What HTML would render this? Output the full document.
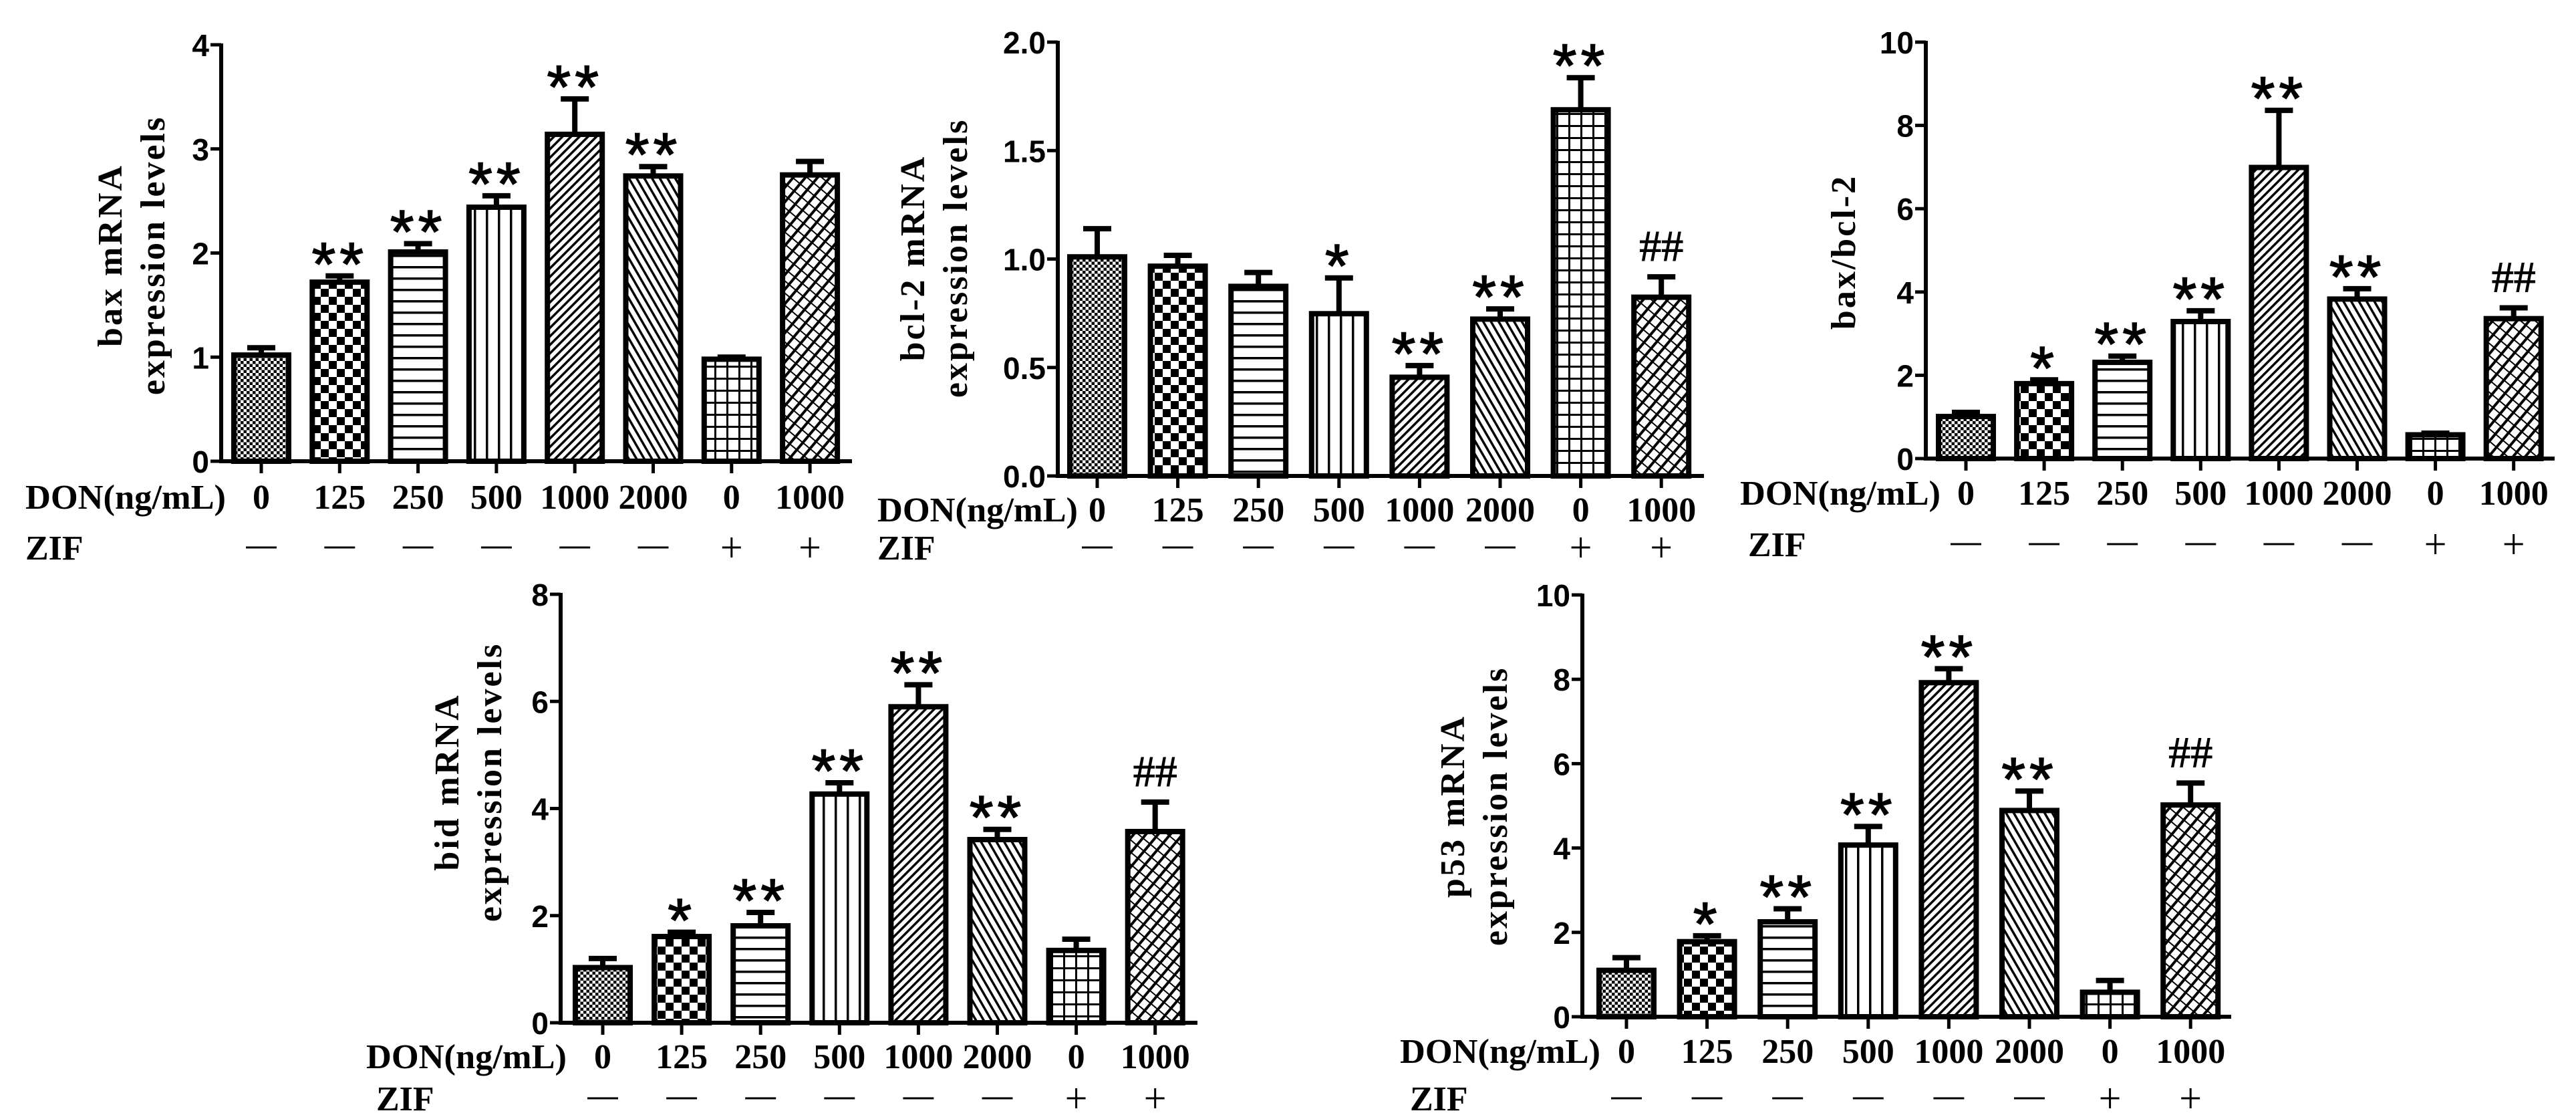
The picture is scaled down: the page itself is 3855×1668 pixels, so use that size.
<!DOCTYPE html>
<html><head><meta charset="utf-8"><style>
html,body{margin:0;padding:0;background:#fff;}
svg{display:block;}
.tick{font-family:"Liberation Sans",sans-serif;font-weight:bold;font-size:46px;}
.lab{font-family:"Liberation Serif",serif;font-weight:bold;font-size:52px;}
.ytitle{font-family:"Liberation Serif",serif;font-weight:bold;font-size:52px;letter-spacing:3px;}
.star{font-family:"Liberation Sans",sans-serif;font-size:92px;stroke:#000;stroke-width:1.5px;}
.hash{font-family:"Liberation Serif",serif;font-size:66px;stroke:#000;stroke-width:1px;}
</style></head><body>
<svg id="fig" width="3855" height="1668" viewBox="0 0 3855 1668" xmlns="http://www.w3.org/2000/svg">
<defs>
<pattern id="p0" width="9" height="9" patternUnits="userSpaceOnUse"><rect width="9" height="9" fill="#fff"/><rect width="4.5" height="4.5" fill="#000"/><rect x="4.5" y="4.5" width="4.5" height="4.5" fill="#000"/></pattern>
<pattern id="p1" width="24" height="24" patternUnits="userSpaceOnUse"><rect width="24" height="24" fill="#fff"/><rect width="12" height="12" fill="#000"/><rect x="12" y="12" width="12" height="12" fill="#000"/></pattern>
<pattern id="p2" width="17" height="17" patternUnits="userSpaceOnUse"><rect width="17" height="17" fill="#fff"/><rect y="7" width="17" height="3.5" fill="#000"/></pattern>
<pattern id="p3" width="18" height="18" patternUnits="userSpaceOnUse"><rect width="18" height="18" fill="#fff"/><rect x="7" width="3.5" height="18" fill="#000"/></pattern>
<pattern id="p4" width="9" height="9" patternUnits="userSpaceOnUse" patternTransform="rotate(45)"><rect width="9" height="9" fill="#fff"/><rect width="3.5" height="9" fill="#000"/></pattern>
<pattern id="p5" width="10" height="10" patternUnits="userSpaceOnUse" patternTransform="rotate(-30)"><rect width="10" height="10" fill="#fff"/><rect width="3.5" height="10" fill="#000"/></pattern>
<pattern id="p6" width="18" height="18" patternUnits="userSpaceOnUse"><rect width="18" height="18" fill="#fff"/><rect x="7" width="3" height="18" fill="#000"/><rect y="7" width="18" height="3" fill="#000"/></pattern>
<pattern id="p7" width="14" height="14" patternUnits="userSpaceOnUse" patternTransform="rotate(40)"><rect width="14" height="14" fill="#fff"/><rect width="4" height="14" fill="#000"/><rect y="0" width="14" height="2" fill="#000"/></pattern>
</defs>
</svg>
<script>
// ---- data ----
var doses = ["0","125","250","500","1000","2000","0","1000"];
var zif = ["-","-","-","-","-","-","+","+"];
var baxVals = [1.02,1.72,2.01,2.44,3.14,2.74,0.98,2.75];
var baxErr = [0.07,0.06,0.08,0.11,0.34,0.09,0.02,0.13];
var baxSig = ["","**","**","**","**","**","",""];
var baxTicks = ["0","1","2","3","4"];
var bclVals = [1.01,0.967,0.874,0.748,0.455,0.723,1.688,0.824];
var bclErr = [0.13,0.05,0.064,0.165,0.054,0.047,0.148,0.094];
var bclSig = ["","","","*","**","**","**","##"];
var bclTicks = ["0.0","0.5","1.0","1.5","2.0"];
var ratioVals = [1.01,1.8,2.31,3.29,6.99,3.83,0.57,3.36];
var ratioErr = [0.1,0.09,0.15,0.26,1.37,0.25,0.04,0.26];
var ratioSig = ["","*","**","**","**","**","","##"];
var ratioTicks = ["0","2","4","6","8","10"];
var bidVals = [1.03,1.61,1.81,4.27,5.9,3.42,1.35,3.57];
var bidErr = [0.17,0.08,0.25,0.21,0.41,0.19,0.21,0.55];
var bidSig = ["","*","**","**","**","**","","##"];
var bidTicks = ["0","2","4","6","8"];
var p53Vals = [1.1,1.78,2.25,4.07,7.92,4.89,0.58,5.02];
var p53Err = [0.3,0.14,0.31,0.44,0.33,0.46,0.28,0.52];
var p53Sig = ["","*","**","**","**","**","","##"];
var p53Ticks = ["0","2","4","6","8","10"];

var NS="http://www.w3.org/2000/svg";
var svg=document.getElementById('fig');
function mk(tag,attrs,parent){var e=document.createElementNS(NS,tag);for(var k in attrs)e.setAttribute(k,attrs[k]);(parent||svg).appendChild(e);return e;}

function drawPanel(name,cfg,vals,errs,sigs,ticks,title){
  var g=mk('g',{});
  
  
  var ymax=parseFloat(ticks[ticks.length-1]);
  function Y(v){return cfg.y0-(v/ymax)*(cfg.y0-cfg.yTop);}
  function X(i){return cfg.c0+i*cfg.step;}
  var bw=82;
  for(var i=0;i<vals.length;i++){
    var top=Y(vals[i]);
    var r=mk('rect',{x:X(i)-bw/2,y:top,width:bw,height:cfg.y0-top,fill:'url(#p'+i+')',stroke:'#000','stroke-width':8},g);
    
    
    var et=Y(vals[i]+errs[i]);
    var eb=mk('path',{d:'M'+X(i)+' '+top+'V'+et+'M'+(X(i)-21)+' '+et+'H'+(X(i)+21),stroke:'#000','stroke-width':8,fill:'none'},g);
    
    
    if(sigs[i]){
      var isHash=sigs[i].charAt(0)=='#';
      var t=mk('text',{x:X(i),y:isHash?et-24:et+14,'text-anchor':'middle','class':isHash?'hash':'star'},g);
      if(!isHash)t.setAttribute('letter-spacing','6');
      t.textContent=sigs[i];
      
      
    }
  }
  var ya=mk('path',{d:'M'+cfg.ax+' '+(cfg.yTop-2)+'V'+(cfg.y0+3),stroke:'#000','stroke-width':6,fill:'none'},g);
  
  
  var xa=mk('path',{d:'M'+(cfg.ax-3)+' '+cfg.y0+'H'+cfg.xEnd,stroke:'#000','stroke-width':6,fill:'none'},g);
  
  
  for(var k=0;k<ticks.length;k++){
    var ty=cfg.y0-k*(cfg.y0-cfg.yTop)/(ticks.length-1);
    mk('path',{d:'M'+(cfg.ax-16)+' '+ty+'H'+cfg.ax,stroke:'#000','stroke-width':5},g);
    var tl=mk('text',{x:cfg.ax-18,y:ty+17,'text-anchor':'end','class':'tick'},g);
    tl.textContent=ticks[k];
    
    
  }
  for(var i=0;i<doses.length;i++){
    mk('path',{d:'M'+X(i)+' '+cfg.y0+'V'+(cfg.y0+18),stroke:'#000','stroke-width':5},g);
    var dl=mk('text',{x:X(i),y:cfg.donY+18,'text-anchor':'middle','class':'lab'},g);
    dl.textContent=doses[i];
    
    
    if(zif[i]=='-'){
      mk('path',{d:'M'+(X(i)-23)+' '+cfg.zifY+'H'+(X(i)+23),stroke:'#000','stroke-width':3},g);
    }else{
      mk('path',{d:'M'+(X(i)-14)+' '+cfg.zifY+'H'+(X(i)+14)+'M'+X(i)+' '+(cfg.zifY-15)+'V'+(cfg.zifY+15),stroke:'#000','stroke-width':3},g);
    }
  }
  var dn=mk('text',{x:cfg.donX,y:cfg.donY+18,'class':'lab',textLength:300,lengthAdjust:'spacingAndGlyphs'},g);
  dn.textContent='DON(ng/mL)';
  
  
  var zf=mk('text',{x:cfg.zifX,y:cfg.zifY+18,'class':'lab'},g);
  zf.textContent='ZIF';
  
  
  var tt=mk('text',{transform:'translate('+cfg.tx+','+cfg.ty+') rotate(-90)','text-anchor':'middle','class':'ytitle'},g);
  
  
  if(title.length==1){
    var s=mk('tspan',{x:0,y:18},tt);s.textContent=title[0];
  }else{
    var s1=mk('tspan',{x:0,y:-14},tt);s1.textContent=title[0];
    var s2=mk('tspan',{x:0,y:50},tt);s2.textContent=title[1];
  }
}

drawPanel('bax',{ax:331,xEnd:1275,yTop:67,y0:690,c0:391,step:117.3,donY:743,zifY:819,donX:38,zifX:38,tx:196,ty:382},baxVals,baxErr,baxSig,baxTicks,['bax mRNA','expression levels']);
drawPanel('bcl2',{ax:1583,xEnd:2550,yTop:63,y0:712,c0:1642,step:120.6,donY:762,zifY:819,donX:1313,zifX:1313,tx:1397,ty:386},bclVals,bclErr,bclSig,bclTicks,['bcl-2 mRNA','expression levels']);
drawPanel('ratio',{ax:2882,xEnd:3823,yTop:63,y0:686,c0:2942,step:117.1,donY:737,zifY:814,donX:2604,zifX:2616,tx:2758,ty:377},ratioVals,ratioErr,ratioSig,ratioTicks,['bax/bcl-2']);
drawPanel('bid',{ax:839,xEnd:1792,yTop:889,y0:1530,c0:902,step:118.1,donY:1580,zifY:1643,donX:548,zifX:563,tx:700,ty:1170},bidVals,bidErr,bidSig,bidTicks,['bid mRNA','expression levels']);
drawPanel('p53',{ax:2368,xEnd:3339,yTop:890,y0:1521,c0:2434,step:120.6,donY:1572,zifY:1643,donX:2095,zifX:2110,tx:2205,ty:1206},p53Vals,p53Err,p53Sig,p53Ticks,['p53 mRNA','expression levels']);
</script>
</body></html>
